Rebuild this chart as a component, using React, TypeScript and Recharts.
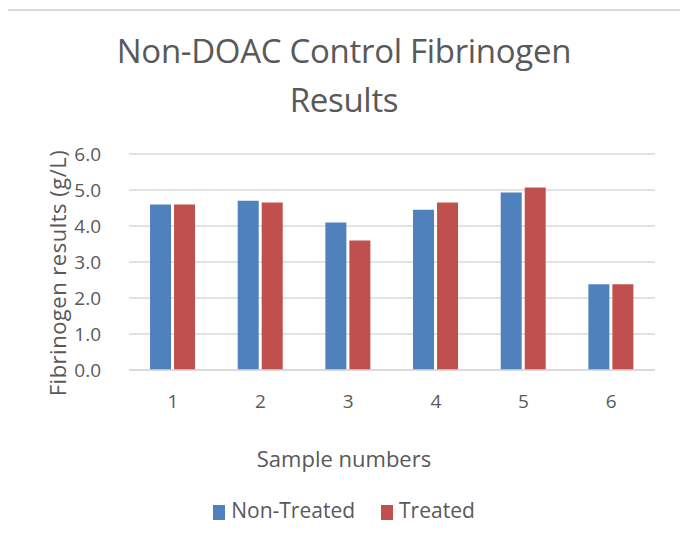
import React from "react";
import { BarChart, Bar, XAxis, YAxis, CartesianGrid } from "recharts";

const samples = ["1", "2", "3", "4", "5", "6"];
const nonTreated = [4.6, 4.7, 4.1, 4.45, 4.93, 2.38];
const treated = [4.6, 4.65, 3.6, 4.65, 5.07, 2.38];
const yTicks = [0, 1, 2, 3, 4, 5, 6];
const seriesNames = ["Non-Treated", "Treated"];
const seriesColors = ["#4F81BD", "#C0504D"];

const data = samples.map((s, i) => ({ sample: s, nonTreated: nonTreated[i], treated: treated[i] }));

const FONT = "'Open Sans', 'Noto Sans', sans-serif";
const GREY = "#595959";

export default function App() {
  return (
    <div style={{ position: "relative", width: 688, height: 545, margin: -8, background: "#fff", overflow: "hidden" }}>
      <div style={{ position: "absolute", left: 3, top: 9, width: 677, height: 560, borderRight: "1.5px solid #d9d9d9", borderTop: "2px solid #d9d9d9" }} />
      <div style={{ position: "absolute", left: 0, top: 26, width: 688, textAlign: "center", fontFamily: FONT, fontSize: 33, color: GREY, lineHeight: "49px", letterSpacing: -0.3 }}>
        Non-DOAC Control Fibrinogen
        <br />
        Results
      </div>
      <div style={{ position: "absolute", left: 0, top: 443, width: 688, textAlign: "center", fontFamily: FONT, fontSize: 22, color: GREY, lineHeight: "30px" }}>
        Sample numbers
      </div>
      <div style={{ position: "absolute", left: 57, top: 273, width: 0, height: 0 }}>
        <div style={{ position: "absolute", left: 0, top: 0, transform: "translate(-50%, -50%) rotate(-90deg)", whiteSpace: "nowrap", fontFamily: FONT, fontSize: 22, color: GREY, letterSpacing: 0.5, lineHeight: "30px" }}>
          Fibrinogen results (g/L)
        </div>
      </div>
      <div style={{ position: "absolute", left: 0, top: 496, width: 688, display: "flex", justifyContent: "center", fontFamily: FONT, fontSize: 21, color: GREY, lineHeight: "28px" }}>
        {seriesNames.map((n, i) => (
          <span key={n} style={{ display: "flex", alignItems: "center", marginRight: i === 0 ? 26 : 0 }}>
            <span style={{ width: 12, height: 15, background: seriesColors[i], display: "inline-block", marginRight: 6, marginTop: 4 }} />
            {n}
          </span>
        ))}
      </div>
      <div style={{ position: "absolute", left: 0, top: 0 }}>
        <BarChart
          width={688}
          height={545}
          data={data}
          margin={{ top: 154, right: 33, bottom: 145, left: 79 }}
          barCategoryGap="24%"
          barGap={3}
        >
          <CartesianGrid vertical={false} stroke="#d9d9d9" strokeWidth={1.5} />
          <XAxis
            dataKey="sample"
            height={30}
            axisLine={{ stroke: "#d9d9d9", strokeWidth: 1.5 }}
            tickLine={false}
            tick={{ fill: GREY, fontSize: 19, fontFamily: FONT }}
            tickMargin={19}
          />
          <YAxis
            width={50}
            domain={[0, 6]}
            ticks={yTicks}
            axisLine={false}
            tickLine={false}
            tick={{ fill: GREY, fontSize: 19, fontFamily: FONT }}
            tickFormatter={(v: number) => v.toFixed(1)}
            tickMargin={22}
          />
          <Bar dataKey="nonTreated" name={seriesNames[0]} fill={seriesColors[0]} isAnimationActive={false} />
          <Bar dataKey="treated" name={seriesNames[1]} fill={seriesColors[1]} isAnimationActive={false} />
        </BarChart>
      </div>
    </div>
  );
}
